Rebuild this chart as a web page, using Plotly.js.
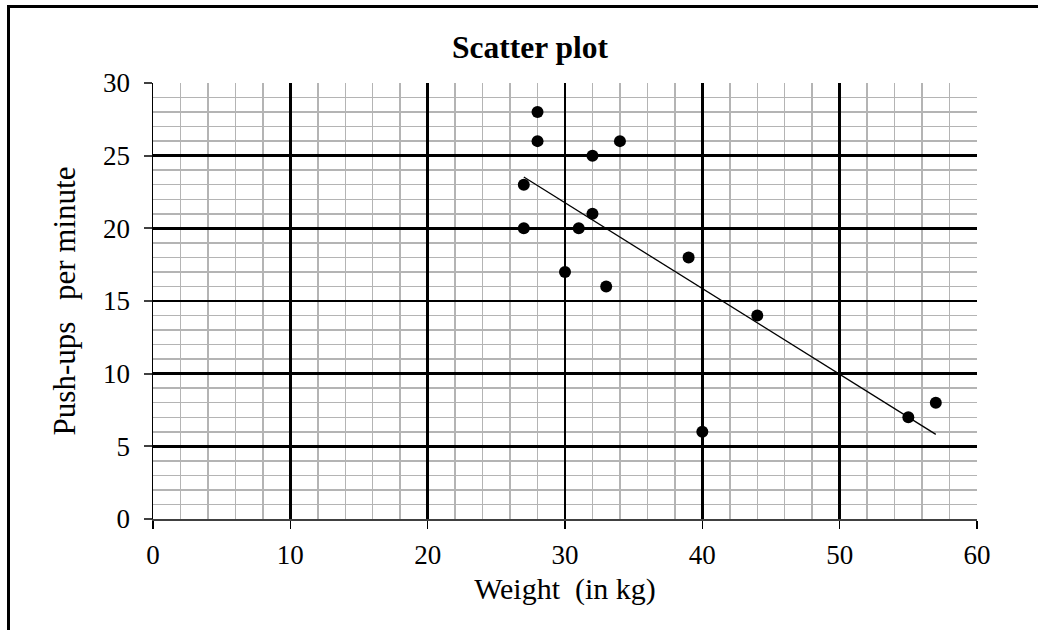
<!DOCTYPE html>
<html>
<head>
<meta charset="utf-8">
<script src="https://cdn.plot.ly/plotly-3.0.1.min.js"></script>
<style>
  html, body { margin: 0; padding: 0; width: 1038px; height: 630px; overflow: hidden; background: #fff; }
  #chart { position: absolute; left: 0; top: 0; width: 1038px; height: 630px; }
  #frame { position: absolute; left: 7px; top: 5px; width: 1100px; height: 700px; border: 3px solid #000; pointer-events: none; }
</style>
</head>
<body>
<div id="chart"></div>
<div id="frame"></div>
<script>
// Data
var weightKg = [27, 27, 28, 28, 30, 31, 32, 32, 33, 34, 39, 40, 44, 55, 57];
var pushUps  = [23, 20, 28, 26, 17, 20, 25, 21, 16, 26, 18, 6, 14, 7, 8];
// Trend line end points
var trendX = [27, 57];
var trendY = [23.53, 5.82];
var xTicks = [0, 10, 20, 30, 40, 50, 60];
var yTicks = [0, 5, 10, 15, 20, 25, 30];

var serif = "'Liberation Serif', 'Times New Roman', serif";

var traces = [
  {
    x: trendX, y: trendY, type: 'scatter', mode: 'lines',
    line: { color: '#000', width: 1.3 }, hoverinfo: 'skip', showlegend: false
  },
  {
    x: weightKg, y: pushUps, type: 'scatter', mode: 'markers',
    marker: { color: '#000', size: 12 }, showlegend: false
  }
];

var layout = {
  width: 1038, height: 630,
  margin: { l: 152.5, r: 61, t: 83, b: 111 },
  paper_bgcolor: '#fff', plot_bgcolor: '#fff',
  showlegend: false,
  title: {
    text: '<b>Scatter plot</b>',
    font: { family: serif, size: 31.5, color: '#000' },
    x: 530 / 1038, xanchor: 'center', xref: 'container',
    y: 1 - 47 / 630, yanchor: 'middle', yref: 'container'
  },
  xaxis: {
    range: [0, 60], tickvals: xTicks, ticktext: xTicks.map(String),
    showgrid: true, gridcolor: '#000', gridwidth: 2.5,
    minor: { dtick: 2, showgrid: true, gridcolor: '#b4b4b4', gridwidth: 1.5, ticks: '' },
    zeroline: false,
    showline: true, linecolor: '#404040', linewidth: 2,
    ticks: 'outside', ticklen: 8, tickwidth: 1.5, tickcolor: '#000',
    tickfont: { family: serif, size: 27, color: '#000' },
    ticklabelstandoff: 3,
    title: { text: 'Weight\u00a0 (in kg)', font: { family: serif, size: 30, color: '#000' }, standoff: 9 },
    fixedrange: true
  },
  yaxis: {
    range: [0, 30], tickvals: yTicks, ticktext: yTicks.map(String),
    showgrid: true, gridcolor: '#000', gridwidth: 2.5,
    minor: { dtick: 1, showgrid: true, gridcolor: '#b4b4b4', gridwidth: 1.5, ticks: '' },
    zeroline: false,
    showline: true, linecolor: '#000', linewidth: 1.5,
    ticks: 'outside', ticklen: 8, tickwidth: 2, tickcolor: '#404040',
    tickfont: { family: serif, size: 27, color: '#000' },
    ticklabelstandoff: 8,
    title: { text: 'Push-ups\u00a0\u2009 per minute', font: { family: serif, size: 31, color: '#000' }, standoff: 18 },
    fixedrange: true
  }
};

Plotly.newPlot('chart', traces, layout, { displayModeBar: false, staticPlot: true });
</script>
</body>
</html>
